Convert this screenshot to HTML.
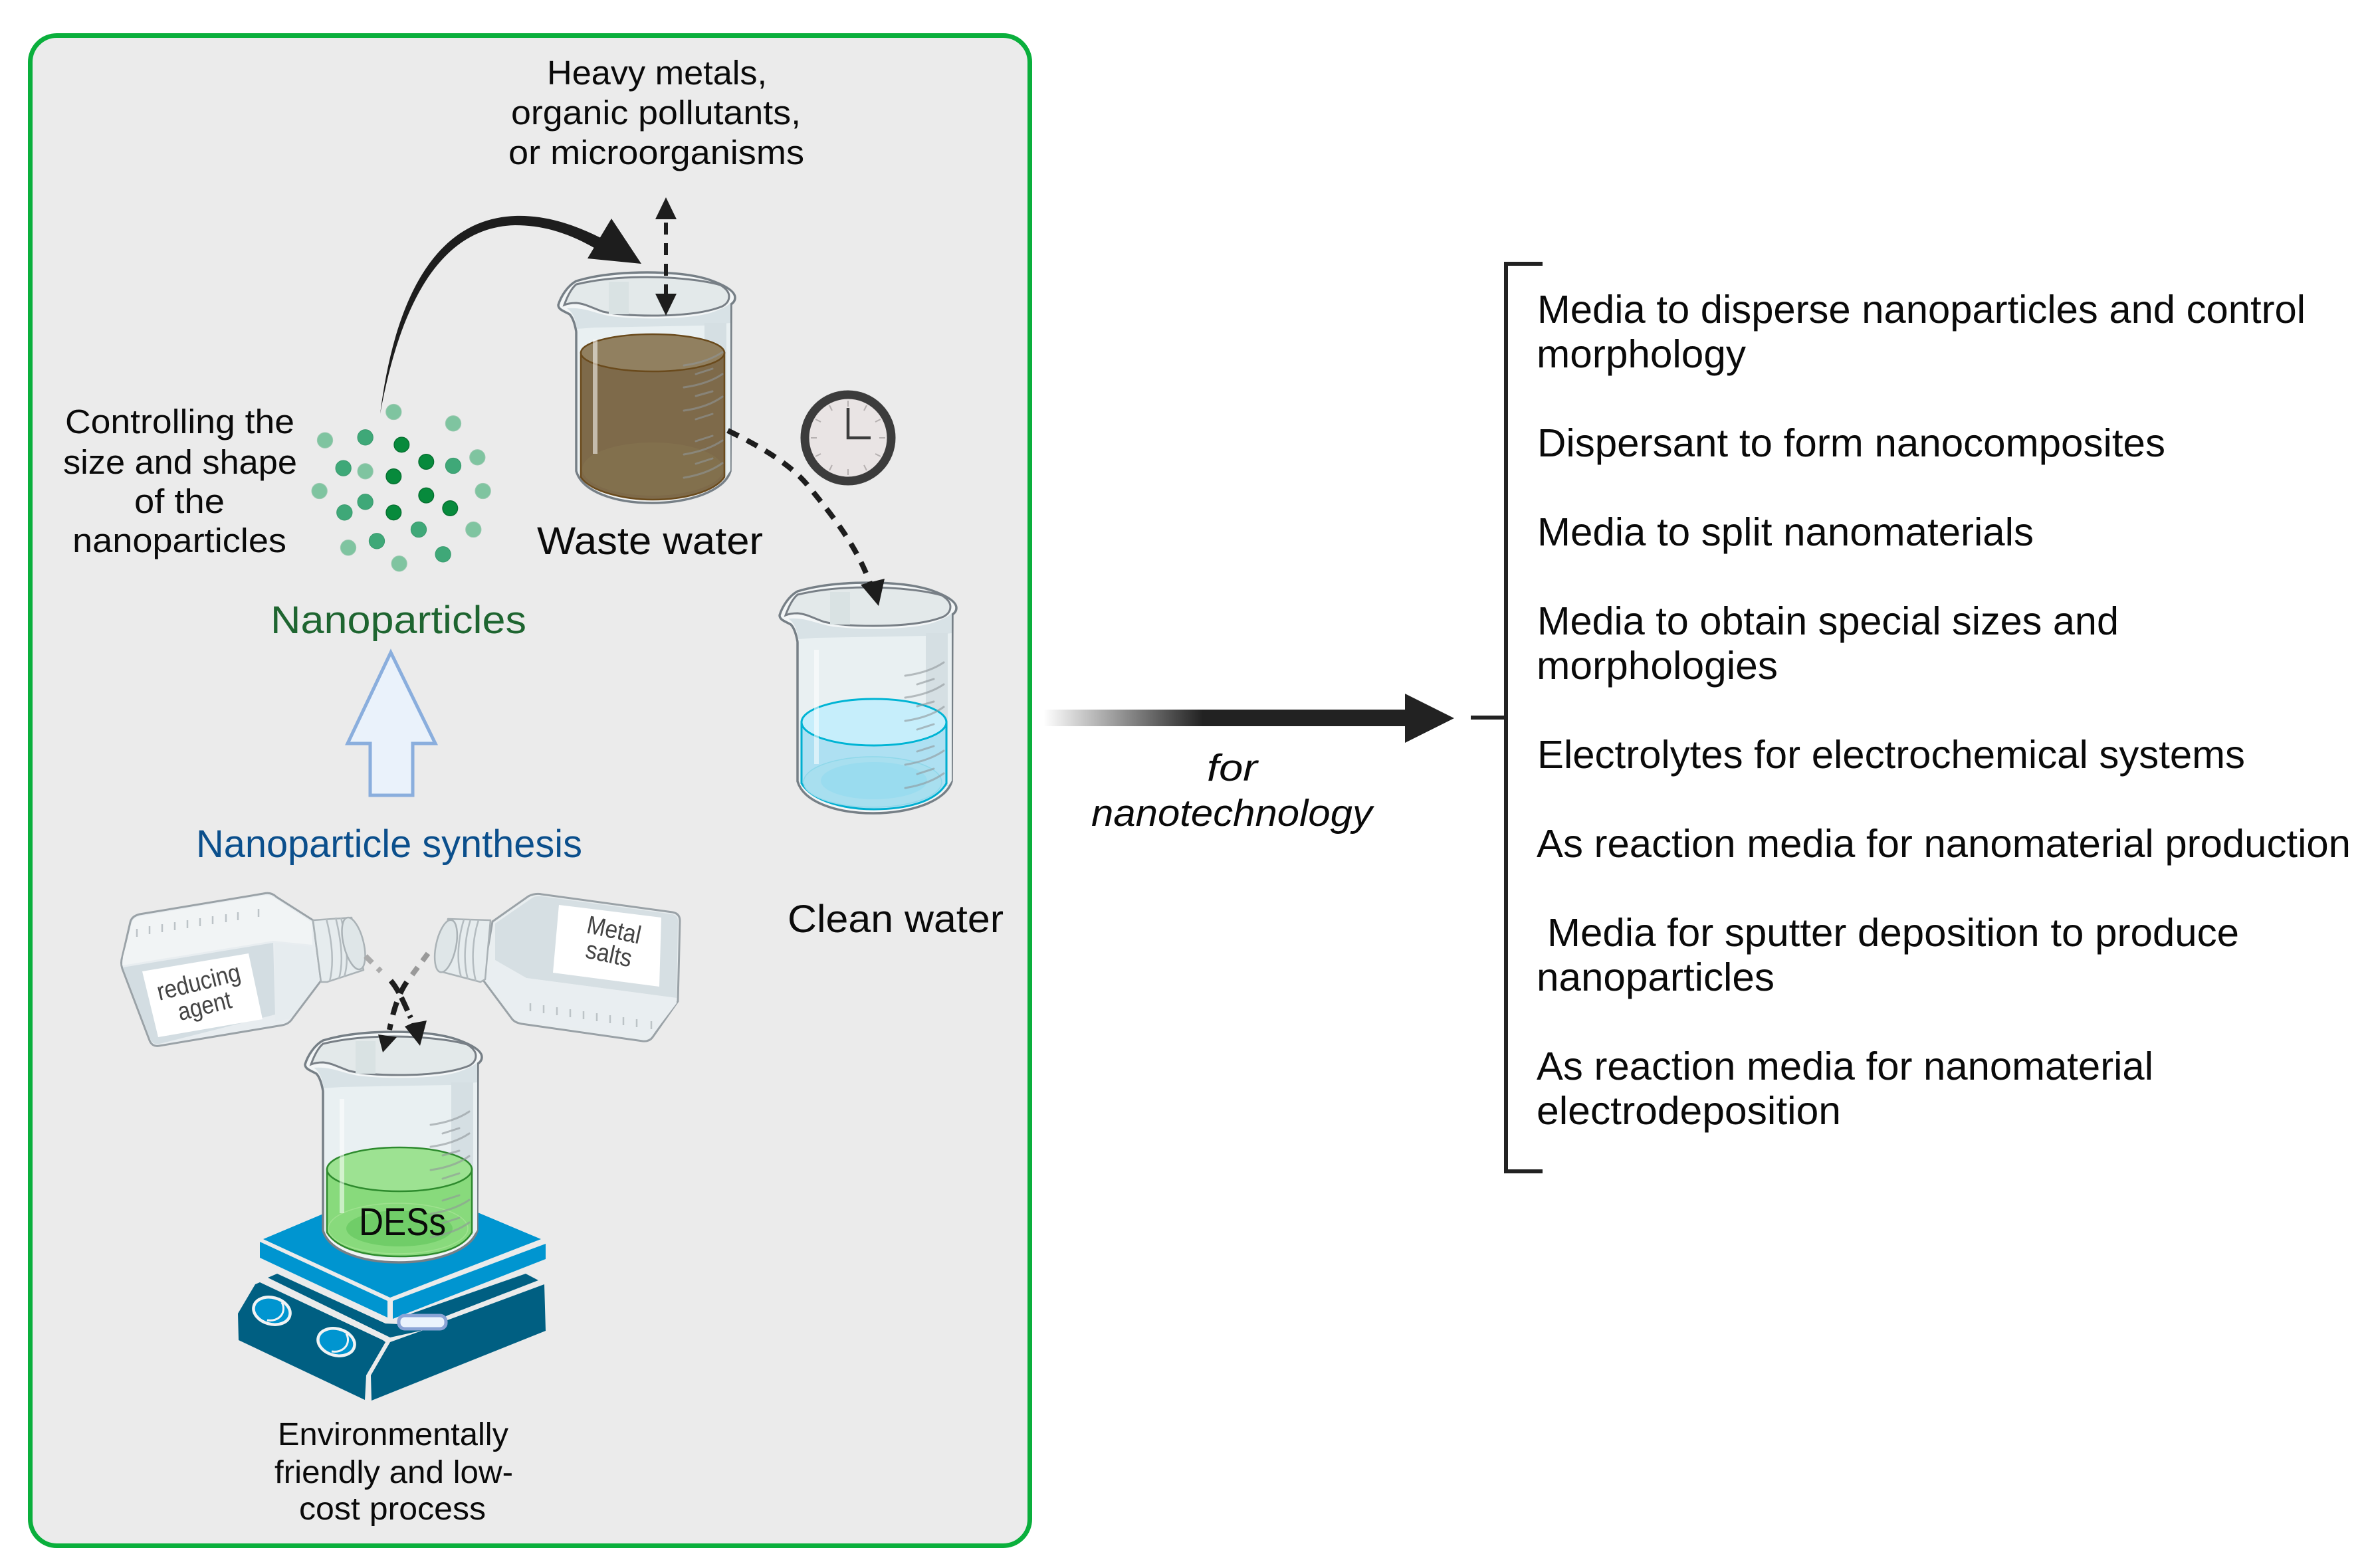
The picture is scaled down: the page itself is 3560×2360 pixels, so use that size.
<!DOCTYPE html>
<html><head><meta charset="utf-8"><style>
html,body{margin:0;padding:0;background:#fff}
svg{display:block}
text{font-family:"Liberation Sans",sans-serif;fill:#0a0a0a}
</style></head><body>
<svg width="3560" height="2360" viewBox="0 0 3560 2360" xmlns="http://www.w3.org/2000/svg">
<defs>
<linearGradient id="fade" gradientUnits="userSpaceOnUse" x1="1570" y1="0" x2="1810" y2="0"><stop offset="0" stop-color="#222" stop-opacity="0"/><stop offset="1" stop-color="#222"/></linearGradient>
<g id="bk-back">
<path d="M0 49C4 36 14 20 27 13C60 3 100 0 134 0C175 0 205 4 227 11C250 19 266 28 266 38C266 43 263 46 260 48L259 299C250 330 195 347 141 347C85 347 36 330 27 299L27 89C25 78 22 68 17 63C8 58 0 56 0 49Z" fill="#f3f6f7" stroke="#767f86" stroke-width="3.5"/>
<path d="M13 54C40 56 55 66 80 69C120 74 190 74 225 66C240 62 256 54 259 50L259 298C245 325 195 343 141 343C90 343 40 325 29 298L29 90C27 75 24 62 13 54Z" fill="#e9f0f2"/>
<path d="M13 54C40 52 55 62 80 66C120 71 190 71 225 62C240 58 256 50 259 46L259 76L220 80L55 83L28 85C26 70 22 60 13 54Z" fill="#d8e2e6"/>
<rect x="220" y="76" width="33" height="230" fill="#d5dfe3"/>
<path d="M9 49C14 35 20 24 27 18C60 10 100 7 134 7C175 7 220 12 244 19C252 24 257 30 257 36C257 44 252 48 247 51C220 62 180 65 141 65C110 65 85 63 67 59C50 53 40 47 27 46C20 46 14 47 9 49Z" fill="#e3e9ea" stroke="#787f86" stroke-width="3"/>
<path d="M76 14H106V63H76Z" fill="#d9e2e3"/>
</g>
<g id="bk-front" fill="none">
<path d="M52 101H59V273H52Z" fill="#fff" fill-opacity=".55"/>
<g stroke="#8f9699" stroke-opacity=".6" stroke-width="3" stroke-linecap="round">
<path d="M189 140Q225 135 247 120M207 153L232 145M189 173Q225 168 247 153M207 186L232 179M189 208Q225 203 247 187M207 221L232 213M207 254L232 246M189 274Q225 268 247 253M207 288L232 280M189 309Q225 303 247 287"/>
</g>
</g>
</defs>

<rect x="45.500" y="53.500" width="1504" height="2273" rx="40" fill="#ebebeb" stroke="#0aaf3c" stroke-width="7"/>

<!-- waste beaker -->
<g transform="translate(840,410)">
<use href="#bk-back"/>
<path d="M34 121V308C48 330 100 342 142 342C190 342 235 330 250 308V121Z" fill="#7e6a4a" stroke="#6a4a1c" stroke-width="2.500"/>
<ellipse cx="142" cy="296" rx="106" ry="40" fill="#82704d"/>
<ellipse cx="142" cy="121" rx="108" ry="28" fill="#918060" stroke="#6a4a1c" stroke-width="2.500"/>
<use href="#bk-front"/>
</g>
<!-- clean beaker -->
<g transform="translate(1173,877)">
<use href="#bk-back"/>
<path d="M33 210V302C50 330 100 341 142 341C190 341 235 330 251 302V210Z" fill="#aee0f2" stroke="#00aed0" stroke-width="3"/>
<ellipse cx="140" cy="300" rx="104" ry="38" fill="#a8dfef" stroke="#8fd8ea" stroke-width="1.500"/>
<ellipse cx="142" cy="298" rx="80" ry="28" fill="#9adcef"/>
<ellipse cx="142" cy="210" rx="109" ry="35" fill="#c6eefb" stroke="#00b4d4" stroke-width="3"/>
<use href="#bk-front"/>
</g>

<!-- hot plate -->
<g fill="#005f82">
<path d="M403 1923L417 1917L580 1992L600 1993L619 1977L791 1917L810 1927L673 1980L637 2002L587 2013Z"/>
<path d="M391 1930L576 2017L580 2020L551 2070L549 2107L359 2017L358 1977L384 1933Z"/>
<path d="M587 2020L637 2002L673 1987L819 1933L821 2003L559 2108L558 2070Z"/>
</g>
<g fill="#0095d0">
<path d="M396 1865L605 1777L814 1865L587 1953Z"/>
<path d="M391 1869L583 1958V1983L391 1893Z"/>
<path d="M591 1958L821 1872V1895L591 1985Z"/>
</g>
<g fill="#0095d0" stroke="#f1f3f4" stroke-width="4.500">
<ellipse cx="409" cy="1973" rx="28" ry="20" transform="rotate(15 409 1973)"/>
<ellipse cx="506" cy="2020" rx="28" ry="20" transform="rotate(15 506 2020)"/>
</g>
<g fill="none" stroke="#f1f3f4" stroke-width="3">
<path d="M424 1960C432 1975 420 1990 402 1987"/><path d="M521 2007C529 2022 517 2037 499 2034"/>
</g>
<rect x="600" y="1980" width="71" height="20" rx="9" fill="#eaf3fc" stroke="#8aa4d6" stroke-width="5"/>

<!-- DES beaker -->
<g transform="translate(459,1553)">
<use href="#bk-back"/>
<path d="M33 207V302C50 330 100 338 142 338C190 338 235 330 251 302V207Z" fill="#88da7c" stroke="#2d8a2d" stroke-width="2.500"/>
<ellipse cx="140" cy="296" rx="105" ry="38" fill="#88da7c" stroke="#9fe18f" stroke-width="1.500"/>
<ellipse cx="142" cy="296" rx="80" ry="27" fill="#70cd68"/>
<ellipse cx="142" cy="207" rx="109" ry="33" fill="#9de292" stroke="#2d8a2d" stroke-width="2.500"/>
<use href="#bk-front"/>
</g>

<!-- left bottle -->
<g stroke-linejoin="round">
<path d="M210 1376L396 1345Q408 1342 416 1350L471 1385L483 1476L440 1533Q435 1541 425 1543L240 1574Q229 1576 225 1566L184 1458Q181 1449 184 1440L196 1388Q198 1379 210 1376Z" fill="#e8edf0" stroke="#9aa2a7" stroke-width="3"/>
<path d="M211 1379L396 1348Q406 1346 414 1352L469 1388L470 1422L411 1416L184 1453L185 1440L198 1390Q200 1381 211 1379Z" fill="#f1f4f5"/>
<path d="M185 1456L411 1419L414 1527L240 1571Q230 1573 226 1564Z" fill="#d3dde2"/>
<path d="M414 1419L469 1425L481 1476L438 1532L414 1538Z" fill="#e6ecef"/>
<path d="M471 1385L529 1381L547 1460L492 1478L483 1478Z" fill="#e6ecee" stroke="#aab2b6" stroke-width="2.500"/>
<path d="M491 1383C498 1410 504 1445 496 1477M505 1381C512 1410 518 1445 510 1473M513 1381C520 1410 526 1445 518 1470" fill="none" stroke="#b4bcc0" stroke-width="2.500"/>
<ellipse cx="532" cy="1420" rx="15" ry="40" fill="#dfe6e8" stroke="#aab2b6" stroke-width="2.500" transform="rotate(-14 532 1420)"/>
<path d="M206 1410V1398M225 1406V1394M244 1403V1391M263 1400V1388M282 1397V1385M301 1394V1382M320 1391V1379M340 1388V1376M358 1385V1373M389 1380V1368" stroke="#bcc3c7" stroke-width="2.500" fill="none"/>
<path d="M214 1462L374 1435L395 1534L238 1561Z" fill="#fff"/>
</g>
<!-- right bottle -->
<g stroke-linejoin="round">
<path d="M741 1387L795 1349Q805 1344 815 1346L1012 1373Q1023 1375 1023 1386L1020 1507L982 1561Q977 1568 967 1567L785 1541Q774 1539 770 1533L726 1474Z" fill="#e9eef0" stroke="#9aa2a7" stroke-width="3"/>
<path d="M800 1352Q805 1348 815 1349L1012 1376Q1020 1378 1020 1386L1018 1502L792 1472L745 1445L745 1390Z" fill="#d6dfe3"/>
<path d="M745 1445L792 1472L1018 1502L1018 1510L980 1560L785 1537L730 1474Z" fill="#e9eef1"/>
<path d="M738 1385L674 1383L662 1462L723 1478L730 1474Z" fill="#e6ecee" stroke="#aab2b6" stroke-width="2.500"/>
<path d="M720 1385C712 1410 708 1445 716 1477M708 1384C700 1410 696 1445 704 1474M698 1384C690 1410 686 1445 694 1471" fill="none" stroke="#b4bcc0" stroke-width="2.500"/>
<ellipse cx="671" cy="1424" rx="15" ry="40" fill="#dfe6e8" stroke="#aab2b6" stroke-width="2.500" transform="rotate(12 671 1424)"/>
<path d="M798 1522V1510M818 1525V1513M838 1528V1516M858 1531V1519M878 1534V1522M898 1537V1525M918 1540V1528M938 1543V1531M958 1546V1534M980 1549V1537" stroke="#bcc3c7" stroke-width="2.500" fill="none"/>
<path d="M841 1362L995 1381L992 1485L832 1464Z" fill="#fff"/>
</g>
<text x="305" y="1490" font-size="38" text-anchor="middle" textLength="128" lengthAdjust="spacingAndGlyphs" transform="rotate(-14 305 1503)" style="fill:#444">reducing</text>
<text x="305" y="1527" font-size="38" text-anchor="middle" textLength="82" lengthAdjust="spacingAndGlyphs" transform="rotate(-14 305 1503)" style="fill:#444">agent</text>
<text x="920" y="1412" font-size="38" text-anchor="middle" textLength="82" lengthAdjust="spacingAndGlyphs" transform="rotate(12 920 1418)" style="fill:#444">Metal</text>
<text x="920" y="1449" font-size="38" text-anchor="middle" textLength="70" lengthAdjust="spacingAndGlyphs" transform="rotate(12 920 1418)" style="fill:#444">salts</text>

<!-- dashed bottle arrows -->
<g fill="none" stroke-width="8">
<path d="M550 1439L573 1462" stroke="#aaa" stroke-dasharray="14 12"/>
<path d="M644 1435L618 1470" stroke="#999" stroke-dasharray="14 12"/>
<path d="M588 1476C600 1490 608 1510 618 1532" stroke="#1d1d1d" stroke-dasharray="22 8"/>
<path d="M612 1478C600 1495 592 1520 586 1550" stroke="#1d1d1d" stroke-dasharray="20 14"/>
</g>
<path d="M632 1574L609 1545L620 1540L642 1536Z" fill="#1d1d1d"/>
<path d="M576 1584L569 1557L597 1561Z" fill="#1d1d1d"/>

<!-- nanoparticles -->
<g transform="translate(440,580) scale(.3333)">
<g fill="#7fc4a0" stroke="#9cc9b1" stroke-width="3"><circle cx="457" cy="120" r="35"/><circle cx="726" cy="172" r="35"/><circle cx="147" cy="248" r="35"/><circle cx="835" cy="325" r="35"/><circle cx="329" cy="388" r="35"/><circle cx="122" cy="477" r="35"/><circle cx="860" cy="477" r="35"/><circle cx="817" cy="651" r="35"/><circle cx="252" cy="733" r="35"/><circle cx="482" cy="805" r="35"/></g>
<g fill="#3fa878" stroke="#3a9a6e" stroke-width="3"><circle cx="329" cy="235" r="35"/><circle cx="230" cy="374" r="35"/><circle cx="726" cy="363" r="35"/><circle cx="329" cy="526" r="35"/><circle cx="235" cy="574" r="35"/><circle cx="570" cy="651" r="35"/><circle cx="381" cy="703" r="35"/><circle cx="680" cy="763" r="35"/></g>
<g fill="#078a3c" stroke="#056e2f" stroke-width="4"><circle cx="493" cy="268" r="34"/><circle cx="604" cy="345" r="34"/><circle cx="457" cy="411" r="34"/><circle cx="604" cy="497" r="34"/><circle cx="712" cy="555" r="34"/><circle cx="457" cy="574" r="34"/></g>
</g>

<!-- curved arrow -->
<path d="M572 623C590 480 640 330 775 325C830 323 880 345 915 364L906 380C860 352 820 339 775 339C652 342 598 480 572 623Z" fill="#1d1d1d"/>
<path d="M965 397L920 329L884 389Z" fill="#1d1d1d"/>

<!-- double dashed -->
<path d="M1002 335V442" stroke="#1d1d1d" stroke-width="6" stroke-dasharray="18 13" fill="none"/>
<path d="M1002 297L1018 330H986Z" fill="#1d1d1d"/>
<path d="M1002 475L986 442H1018Z" fill="#1d1d1d"/>

<!-- dashed curve -->
<path d="M1095 648C1150 675 1190 700 1215 730C1260 785 1290 825 1310 880" fill="none" stroke="#1d1d1d" stroke-width="8" stroke-dasharray="18 14"/>
<path d="M1322 912L1295 880L1331 871Z" fill="#1d1d1d"/>

<!-- clock -->
<circle cx="1276" cy="659" r="65" fill="#e9e4e4" stroke="#3c3c3c" stroke-width="13"/>
<g stroke="#b5b0b0" stroke-width="2"><path d="M1276 603V612M1276 706V715M1220 659H1229M1323 659H1332M1248 610L1252 618M1304 610L1300 618M1227 631L1235 635M1325 631L1317 635M1227 687L1235 683M1325 687L1317 683M1248 708L1252 700M1304 708L1300 700"/></g>
<path d="M1276 614V659H1310" fill="none" stroke="#3c3c3c" stroke-width="4.500"/>

<!-- blue arrow -->
<path d="M588 982L655 1119H621V1197H557V1119H523Z" fill="#eaf2fb" stroke="#8aaedd" stroke-width="5"/>

<!-- main arrow -->
<rect x="1570" y="1068" width="546" height="25" fill="url(#fade)"/>
<path d="M2114 1044L2188 1081L2114 1118Z" fill="#222"/>

<!-- bracket -->
<path d="M2321 397H2266V1763H2321M2213 1080H2266" fill="none" stroke="#222" stroke-width="6"/>

<!-- left texts -->
<g font-size="51">
<text x="823" y="127" textLength="331" lengthAdjust="spacingAndGlyphs">Heavy metals,</text>
<text x="769" y="187" textLength="436" lengthAdjust="spacingAndGlyphs">organic pollutants,</text>
<text x="765" y="247" textLength="445" lengthAdjust="spacingAndGlyphs">or microorganisms</text>
<text x="98" y="652" textLength="345" lengthAdjust="spacingAndGlyphs">Controlling the</text>
<text x="95" y="713" textLength="352" lengthAdjust="spacingAndGlyphs">size and shape</text>
<text x="202" y="772" textLength="136" lengthAdjust="spacingAndGlyphs">of the</text>
<text x="109" y="831" textLength="322" lengthAdjust="spacingAndGlyphs">nanoparticles</text>
</g>
<text x="808" y="834" font-size="58" textLength="340" lengthAdjust="spacingAndGlyphs">Waste water</text>
<text x="1185" y="1403" font-size="58" textLength="325" lengthAdjust="spacingAndGlyphs">Clean water</text>
<text x="407" y="953" font-size="58" textLength="385" lengthAdjust="spacingAndGlyphs" style="fill:#1e6530">Nanoparticles</text>
<text x="295" y="1290" font-size="58" textLength="581" lengthAdjust="spacingAndGlyphs" style="fill:#0b4f8c">Nanoparticle synthesis</text>
<text x="540" y="1859" font-size="58" textLength="131" lengthAdjust="spacingAndGlyphs">DESs</text>
<g font-size="48">
<text x="418" y="2175" textLength="347" lengthAdjust="spacingAndGlyphs">Environmentally</text>
<text x="413" y="2232" textLength="359" lengthAdjust="spacingAndGlyphs">friendly and low-</text>
<text x="450" y="2287" textLength="281" lengthAdjust="spacingAndGlyphs">cost process</text>
</g>
<g font-size="57" font-style="italic">
<text x="1816" y="1175" textLength="76" lengthAdjust="spacingAndGlyphs">for</text>
<text x="1642" y="1243" textLength="423" lengthAdjust="spacingAndGlyphs">nanotechnology</text>
</g>

<!-- list -->
<g font-size="59">
<text x="2313" y="486" textLength="1156" lengthAdjust="spacingAndGlyphs">Media to disperse nanoparticles and control</text>
<text x="2312" y="553" textLength="315" lengthAdjust="spacingAndGlyphs">morphology</text>
<text x="2313" y="687" textLength="945" lengthAdjust="spacingAndGlyphs">Dispersant to form nanocomposites</text>
<text x="2313" y="821" textLength="747" lengthAdjust="spacingAndGlyphs">Media to split nanomaterials</text>
<text x="2313" y="955" textLength="875" lengthAdjust="spacingAndGlyphs">Media to obtain special sizes and</text>
<text x="2312" y="1022" textLength="363" lengthAdjust="spacingAndGlyphs">morphologies</text>
<text x="2313" y="1156" textLength="1065" lengthAdjust="spacingAndGlyphs">Electrolytes for electrochemical systems</text>
<text x="2312" y="1290" textLength="1225" lengthAdjust="spacingAndGlyphs">As reaction media for nanomaterial production</text>
<text x="2328" y="1424" textLength="1041" lengthAdjust="spacingAndGlyphs">Media for sputter deposition to produce</text>
<text x="2312" y="1491" textLength="358" lengthAdjust="spacingAndGlyphs">nanoparticles</text>
<text x="2312" y="1625" textLength="928" lengthAdjust="spacingAndGlyphs">As reaction media for nanomaterial</text>
<text x="2312" y="1692" textLength="458" lengthAdjust="spacingAndGlyphs">electrodeposition</text>
</g>
</svg>
</body></html>
